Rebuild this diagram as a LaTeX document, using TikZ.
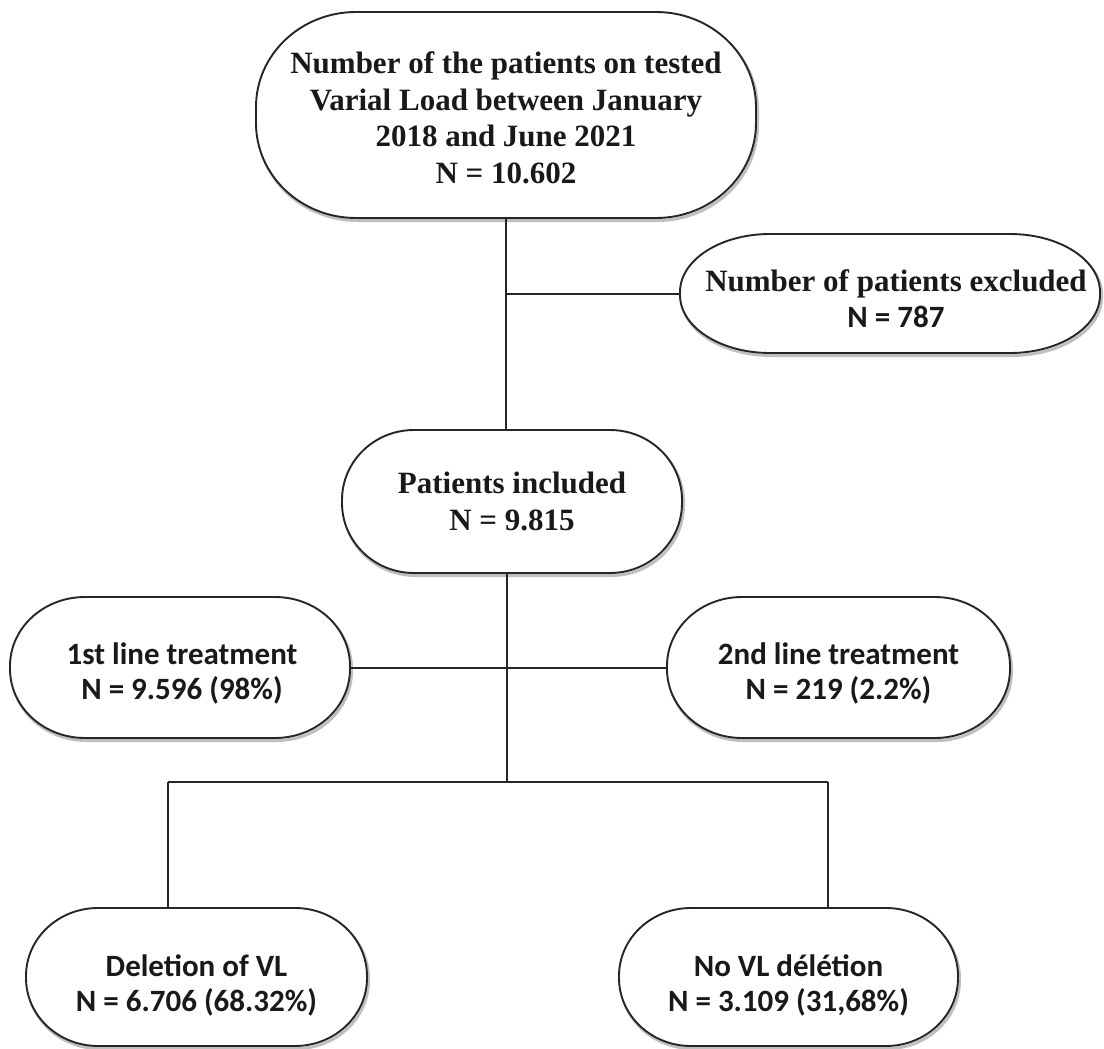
\documentclass[tikz,border=0pt]{standalone}
\usepackage{fontspec}
\newfontfamily\serifb{Liberation Serif}
\newfontfamily\calib{Carlito}
\usetikzlibrary{backgrounds}
\newcommand\pillbox[3]{%
  \draw[pill] ([xshift=#2]#1.north west) -- ([xshift=-#2]#1.north east)
    arc[start angle=90,end angle=0,x radius=#2,y radius=#3]
    -- ([yshift=#3]#1.south east)
    arc[start angle=0,end angle=-90,x radius=#2,y radius=#3]
    -- ([xshift=#2]#1.south west)
    arc[start angle=270,end angle=180,x radius=#2,y radius=#3]
    -- ([yshift=-#3]#1.north west)
    arc[start angle=180,end angle=90,x radius=#2,y radius=#3] -- cycle;}
\begin{document}
\begin{tikzpicture}[x=1pt,y=1pt,
  box/.style={rectangle, draw=none, inner sep=0pt, outer sep=0pt},
  txt/.style={inner sep=0pt, align=center, text=black!90},
  sfont/.style={font=\serifb\bfseries\fontsize{31}{36.5}\selectfont},
  cfont/.style={font=\calib\bfseries\fontsize{31}{35}\selectfont},
  pill/.style={draw=black!85, line width=1.9pt, fill=white,
    preaction={draw=black!25, line width=3pt, transform canvas={xshift=1.5pt,yshift=-2.5pt}}},
  conn/.style={draw=black!85, line width=2pt}]
\useasboundingbox (0,0) rectangle (1104,-1049);

% box shapes
\node[box, minimum width=500pt, minimum height=206pt] (top) at (506,-115) {};
\node[box, minimum width=420pt, minimum height=119pt] (excl) at (890,-293.5) {};
\node[box, minimum width=340pt, minimum height=143pt] (incl) at (512,-501.5) {};
\node[box, minimum width=340pt, minimum height=141pt] (first) at (180,-667.5) {};
\node[box, minimum width=343pt, minimum height=141pt] (second) at (838.5,-667.5) {};
\node[box, minimum width=341pt, minimum height=138pt] (del) at (196.5,-977) {};
\node[box, minimum width=339pt, minimum height=138pt] (novl) at (788.5,-977) {};

% texts
\node[txt, sfont] (toptxt) at ([yshift=-3pt]top.center)
  {Number of the patients on tested\\Varial Load between January\\2018 and June 2021\\N = 10.602};
\node[txt, sfont] (excltxt) at ([xshift=6pt,yshift=-5pt]excl.center)
  {Number of patients excluded\\{\calib N = 787}};
\node[txt, sfont] (incltxt) at (incl.center)
  {Patients included\\N = 9.815};
\node[txt, cfont] (firsttxt) at ([xshift=2pt,yshift=-6pt]first.center)
  {1st line treatment\\N = 9.596 (98\%)};
\node[txt, cfont] (secondtxt) at ([yshift=-6pt]second.center)
  {2nd line treatment\\N = 219 (2.2\%)};
\node[txt, cfont] (deltxt) at ([yshift=-8pt]del.center)
  {Deletion of VL\\N = 6.706 (68.32\%)};
\node[txt, cfont] (novltxt) at ([yshift=-8pt]novl.center)
  {No VL délétion\\N = 3.109 (31,68\%)};

\begin{pgfonlayer}{background}
\fill[white] (0,0) rectangle (1104,-1049);
\pillbox{top}{100pt}{95pt}
\pillbox{excl}{90pt}{58pt}
\pillbox{incl}{72pt}{70pt}
\pillbox{first}{75pt}{69pt}
\pillbox{second}{75pt}{69pt}
\pillbox{del}{72pt}{68pt}
\pillbox{novl}{72pt}{68pt}
\end{pgfonlayer}

\coordinate (split) at (507,-782);
\coordinate (bl) at (168,-782);
\coordinate (br) at (828,-782);
\draw[conn] (top.south) -- (top.south |- incl.north);
\draw[conn] (top.south |- excl.west) -- (excl.west);
\draw[conn] (split |- incl.south) -- (split);
\draw[conn] (first.east) -- (second.west);
\draw[conn] (bl) -- (br);
\draw[conn] (bl) -- (bl |- del.north);
\draw[conn] (br) -- (br |- novl.north);
\end{tikzpicture}
\end{document}
